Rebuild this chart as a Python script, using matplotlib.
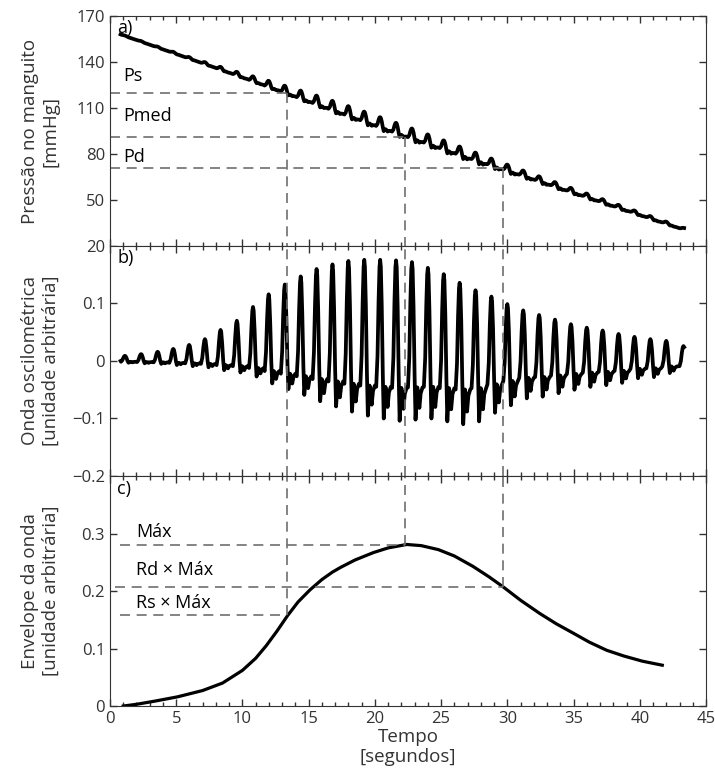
import numpy as np
import matplotlib
matplotlib.use("Agg")
import matplotlib.pyplot as plt
from matplotlib.ticker import MultipleLocator

plt.rcParams["font.family"] = ["Open Sans", "DejaVu Sans"]

# ---------------- data ----------------
# panel b: time of each pulse peak [s], peak value and following trough
beat_times = [1.13, 2.35, 3.6, 4.78, 5.98, 7.17, 8.35, 9.58, 10.8, 11.98,
              13.2, 14.4, 15.6, 16.8, 18.0, 19.2, 20.4, 21.6, 22.8, 24.0,
              25.2, 26.4, 27.6, 28.8, 30.0, 31.2, 32.4, 33.6, 34.8, 36.0,
              37.2, 38.4, 39.6, 40.8, 42.0, 43.3]
beat_peaks = [0.009, 0.012, 0.016, 0.021, 0.028, 0.038, 0.054, 0.070, 0.094,
              0.116, 0.133, 0.147, 0.160, 0.168, 0.174, 0.176, 0.176, 0.175,
              0.172, 0.162, 0.151, 0.136, 0.123, 0.112, 0.099, 0.088, 0.080,
              0.072, 0.064, 0.058, 0.053, 0.047, 0.042, 0.038, 0.035, 0.026]
beat_troughs = [-0.003, -0.004, -0.005, -0.007, -0.009, -0.011, -0.016, -0.020,
                -0.027, -0.039, -0.049, -0.059, -0.070, -0.079, -0.088, -0.095,
                -0.100, -0.104, -0.102, -0.100, -0.105, -0.110, -0.105, -0.090,
                -0.077, -0.065, -0.062, -0.056, -0.050, -0.045, -0.042, -0.038,
                -0.030, -0.028, -0.021, -0.020]

# panel a: cuff pressure trend [mmHg]
press_t = [0.8, 13.4, 22.3, 29.7, 43.3]
press_v = [158, 120, 93, 71, 31]

# panel c: oscillation envelope
env_t = [1.0, 2.0, 3.5, 5.1, 7.0, 8.5, 10.0, 11.0, 11.8, 12.6, 13.4, 14.2,
         15.1, 16.0, 16.8, 17.4, 18.5, 19.9, 21.0, 22.4, 23.5, 24.8, 26.0,
         27.4, 28.6, 29.7, 31.0, 32.45, 33.7, 34.96, 36.2, 37.5, 38.8, 40.2,
         41.7]
env_v = [0.0, 0.003, 0.009, 0.016, 0.027, 0.040, 0.062, 0.083, 0.105, 0.130,
         0.157, 0.181, 0.202, 0.220, 0.233, 0.241, 0.254, 0.267, 0.275, 0.281,
         0.279, 0.272, 0.261, 0.243, 0.225, 0.207, 0.184, 0.161, 0.143, 0.127,
         0.111, 0.097, 0.087, 0.078, 0.071]

# characteristic points
t_ps, t_pmed, t_pd = 13.4, 22.3, 29.7
p_ps, p_pmed, p_pd = 120, 91, 71
e_max, e_rd, e_rs = 0.280, 0.207, 0.158

# ---------------- build the pulse trace ----------------
# beat shape: time offset from the peak, weight of peak value, weight of trough value
offs = [-0.30, -0.20, -0.12, -0.05, 0.0, 0.05, 0.12, 0.20, 0.27, 0.34, 0.40,
        0.48, 0.56, 0.66, 0.80]
wp = [0, 0.25, 0.65, 0.93, 1.0, 0.93, 0.60, 0.15, 0, 0, 0, 0, 0, 0, 0]
wt = [0.45, 0.35, 0.10, 0, 0, 0, 0.10, 0.50, 1.0, 0.70, 0.45, 0.55, 0.80, 0.55, 0.45]

wave_t = [0.8]
wave_v = [0.0]
for tb, pk, tr in zip(beat_times, beat_peaks, beat_troughs):
    for o, a, b in zip(offs, wp, wt):
        if tb + o > 43.35:
            break
        if tb + o <= wave_t[-1]:
            continue
        wave_t.append(tb + o)
        wave_v.append(a * pk + b * tr)
wave_t = np.array(wave_t)
wave_v = np.array(wave_v)
cuff = np.interp(wave_t, press_t, press_v) + 30 * wave_v

# ---------------- figure ----------------
fig = plt.figure(figsize=(7.15, 7.78), dpi=100)
left, width = 0.1538, 0.8336
axa = fig.add_axes([left, 0.6838, width, 0.2956])
axb = fig.add_axes([left, 0.3882, width, 0.2956])
axc = fig.add_axes([left, 0.0925, width, 0.2956])

dash = dict(color="#6e6e6e", lw=1.2, dashes=(6, 4))
line = dict(color="black", lw=2.7, solid_joinstyle="round")

axa.plot(wave_t, cuff, **line)
axb.plot(wave_t, wave_v, **line)
axc.plot(env_t, env_v, color="black", lw=2.3, solid_joinstyle="round")

# dashed guides linking the three panels
for t, p in [(t_ps, p_ps), (t_pmed, p_pmed), (t_pd, p_pd)]:
    axa.plot([0, t], [p, p], **dash)
    axa.plot([t, t], [p, 20], **dash)
    axb.plot([t, t], [-0.2, 0.2], **dash)
for t, e, x0 in [(t_ps, e_rs, 0.75), (t_pmed, e_max, 0.75), (t_pd, e_rd, 0.35)]:
    axc.plot([x0, t], [e, e], **dash)
    axc.plot([t, t], [e, 0.4], **dash)

fs_txt = 13
axa.text(1.0, 131, "Ps", fontsize=fs_txt, va="center")
axa.text(1.0, 105, "Pmed", fontsize=fs_txt, va="center")
axa.text(1.0, 78, "Pd", fontsize=fs_txt, va="center")
axc.text(2.0, 0.302, "Máx", fontsize=fs_txt, va="center")
axc.text(2.0, 0.236, "Rd × Máx", fontsize=fs_txt, va="center")
axc.text(2.0, 0.179, "Rs × Máx", fontsize=fs_txt, va="center")

axa.set_ylim(20, 170)
axa.set_yticks([20, 50, 80, 110, 140, 170])
axb.set_ylim(-0.2, 0.2)
axb.set_yticks([-0.2, -0.1, 0, 0.1])
axb.set_yticklabels(["\u22120.2", "\u22120.1", "0", "0.1"])
axc.set_ylim(0, 0.4)
axc.set_yticks([0, 0.1, 0.2, 0.3])
axc.set_yticklabels(["0", "0.1", "0.2", "0.3"])

for ax, tag in [(axa, "a)"), (axb, "b)"), (axc, "c)")]:
    ax.set_xlim(0, 45)
    ax.xaxis.set_major_locator(MultipleLocator(5))
    ax.xaxis.set_minor_locator(MultipleLocator(1))
    ax.tick_params(which="both", direction="in", top=True, right=True,
                   labelsize=12, colors="#333333", width=1)
    ax.tick_params(which="major", length=5)
    ax.tick_params(which="minor", length=3)
    for s in ax.spines.values():
        s.set_color("#333333")
    ax.text(0.012, 0.985, tag, transform=ax.transAxes, fontsize=13,
            va="top", ha="left")
    ax.yaxis.set_label_coords(-0.085, 0.5)
    if ax is not axc:
        ax.tick_params(labelbottom=False)

axa.set_ylabel("Pressão no manguito\n[mmHg]", fontsize=13.5, color="#333333")
axb.set_ylabel("Onda oscilométrica\n[unidade arbitrária]", fontsize=13.5, color="#333333")
axc.set_ylabel("Envelope da onda\n[unidade arbitrária]", fontsize=13.5, color="#333333")
axc.set_xlabel("Tempo\n[segundos]", fontsize=13.5, color="#333333", labelpad=1,
               linespacing=1.15)

fig.savefig("out.png", dpi=100)
